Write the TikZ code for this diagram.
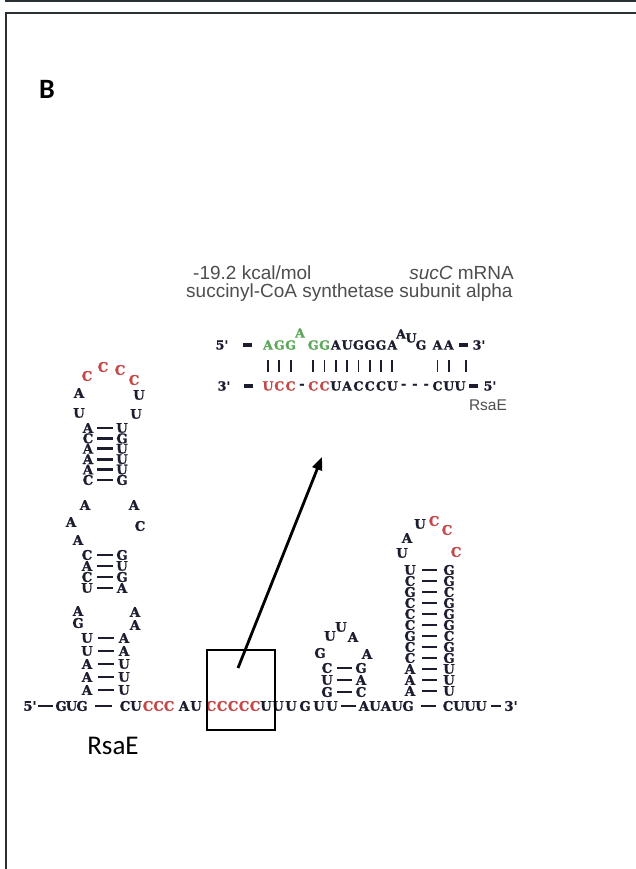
\documentclass[tikz,border=0pt]{standalone}
\usepackage{fontspec}
\usetikzlibrary{calc,arrows.meta}
\newfontfamily\ntfont{DejaVu Serif}[BoldFeatures={FakeBold=1.2}]
\newfontfamily\arialfont{Liberation Sans}
\newfontfamily\califont{Carlito}
\definecolor{ntc}{RGB}{28,30,48}
\definecolor{redc}{RGB}{196,72,72}
\definecolor{greenc}{RGB}{92,168,88}
\definecolor{grayt}{RGB}{78,78,78}
\definecolor{framec}{RGB}{40,48,52}
\tikzset{
  nt/.style={font=\ntfont\bfseries\fontsize{13.2}{13.2}\selectfont, text=ntc, inner sep=0pt},
  ntr/.style={nt, text=redc},
  it/.style={font=\ntfont\bfseries\fontsize{12.6}{12.6}\selectfont, text=ntc, inner sep=0pt},
  itr/.style={it, text=redc},
  itg/.style={it, text=greenc},
  pair/.style={line width=2.8pt, draw=ntc},
  vbar/.style={line width=1.8pt, draw=ntc},
  ibar/.style={line width=3.8pt, draw=ntc},
  lab/.style={font=\arialfont\fontsize{19}{19}\selectfont, text=grayt, inner sep=0pt},
  frameline/.style={draw=framec, line width=1.7pt},
}
\begin{document}
\begin{tikzpicture}[x=1pt,y=-1pt]
\useasboundingbox (0,0) rectangle (636,869);
\fill[white] (0,0) rectangle (636,869);
% frame
\draw[frameline] (6,869) -- (6,13) -- (636,13);
\draw[frameline] (6,0) -- (6,1.2) -- (636,1.2);
% panel letter
\node[font=\califont\bfseries\fontsize{28}{28}\selectfont, inner sep=0pt] (panelB) at (47,89) {B};

% ---------- interaction panel ----------
\node[lab, anchor=base west] (energy) at (193,279) {-19.2 kcal/mol};
\node[lab, anchor=base east] (mrna) at (514,279) {\itshape sucC\upshape{} mRNA};
\node[lab, anchor=base west] (protein) at (186,297) {succinyl-CoA synthetase subunit alpha};
\node[lab, font=\arialfont\fontsize{15.5}{15.5}\selectfont, anchor=base] (rsaeR) at (488,410) {RsaE};

% top strand (mRNA)
\node[it] (i5) at (222,345) {5'};
\foreach \c/\l/\s in {0/A/itg,1/G/itg,2/G/itg,4/G/itg,5/G/itg,6/A/it,7/U/it,8/G/it,9/G/it,10/G/it,11/A/it,15/A/it,16/A/it}{
  \node[\s] (t\c) at ({268+11.3*\c},345) {\l};
}
\node[itg] (tb1) at (300,333) {A};
\node[it] (tb2) at (401,334) {A};
\node[it] (tb3) at (411,338) {U};
\node[it] (t13) at (421,345) {G};
\node[it] (i3) at (479,345) {3'};
\draw[ibar] ($(i5)!.55!(t0)$) ++(-4.5,0) -- ++(9,0);
\draw[ibar] ($(t16)!.5!(i3)$) ++(-4.5,0) -- ++(9,0);
% bottom strand (RsaE)
\node[it] (j3) at (224,386) {3'};
\foreach \c/\l/\s in {0/U/itr,1/C/itr,2/C/itr,3/-/it,4/C/itr,5/C/itr,6/U/it,7/A/it,8/C/it,9/C/it,10/C/it,11/U/it,12/-/it,13/-/it,14/-/it,15/C/it,16/U/it,17/U/it}{
  \node[\s] (b\c) at ({268+11.3*\c},386) {\l};
}
\node[it] (j5) at (490,386) {5'};
\draw[ibar] ($(j3)!.55!(b0)$) ++(-4.5,0) -- ++(9,0);
\draw[ibar] ($(b17)!.45!(j5)$) ++(-4.5,0) -- ++(9,0);
% pairing bars
\foreach \c in {0,1,2,4,5,6,7,8,9,10,11}{
  \draw[vbar] ($(t\c)!.5!(b\c)$) ++(0,-6) -- ++(0,12);
}
\foreach \c in {15,16}{
  \draw[vbar] ($(t\c)!.5!(b\c)$) ++(0,-6) -- ++(0,12);
}
\draw[vbar] ($(t16)!.5!(b17)$) ++(11.3,-6) -- ++(0,12);

% ---------- RsaE secondary structure ----------
% left hairpin: apical loop
\node[ntr] (la1) at (87,376) {C};
\node[ntr] (la2) at (103,367) {C};
\node[ntr] (la3) at (120,370) {C};
\node[ntr] (la4) at (134,380) {C};
\node[nt] (la5) at (79,393) {A};
\node[nt] (la6) at (79,413) {U};
\node[nt] (la7) at (139,395) {U};
\node[nt] (la8) at (136,414) {U};
% upper stem
\foreach \n/\y/\nA/\nB in {1/428/A/U,2/438.4/C/G,3/448.8/A/U,4/459.2/A/U,5/469.6/A/U,6/480/C/G}{
  \node[nt] (usL\n) at (88,\y) {\nA};
  \node[nt] (usR\n) at (122,\y) {\nB};
  \draw[pair] ($(usL\n)!.5!(usR\n)$) ++(-8,0) -- ++(16,0);
}
% internal loop 1
\node[nt] (il1) at (85,505) {A};
\node[nt] (il2) at (71,522) {A};
\node[nt] (il3) at (78,540) {A};
\node[nt] (il4) at (134,505) {A};
\node[nt] (il5) at (140,526) {C};
% middle stem
\foreach \n/\y/\nA/\nB in {1/555/C/G,2/566/A/U,3/577/C/G,4/588/U/A}{
  \node[nt] (msL\n) at (87,\y) {\nA};
  \node[nt] (msR\n) at (122,\y) {\nB};
  \draw[pair] ($(msL\n)!.5!(msR\n)$) ++(-8,0) -- ++(16,0);
}
% internal loop 2
\node[nt] (il6) at (78,611) {A};
\node[nt] (il7) at (78,623) {G};
\node[nt] (il8) at (135,612) {A};
\node[nt] (il9) at (135,625) {A};
% lower stem
\foreach \n/\y/\nA/\nB in {1/638/U/A,2/651/U/A,3/664/A/U,4/677/A/U,5/690/A/U}{
  \node[nt] (lsL\n) at (87,\y) {\nA};
  \node[nt] (lsR\n) at (124,\y) {\nB};
  \draw[pair] ($(lsL\n)!.5!(lsR\n)$) ++(-8,0) -- ++(16,0);
}
% backbone row
\node[nt] (five) at (30,706) {5'};
\foreach \x/\l/\s [count=\i] in {61/G/nt,71.5/U/nt,82/G/nt,125/C/nt,136/U/nt,148/C/ntr,158.5/C/ntr,169/C/ntr,184/A/nt,196/U/nt,211/C/ntr,222/C/ntr,233/C/ntr,244/C/ntr,255/C/ntr,266/U/nt,278/U/nt,291/U/nt,305/G/nt,319/U/nt,332/U/nt,364/A/nt,375/U/nt,386/A/nt,397/U/nt,408/G/nt,448/C/nt,459/U/nt,470/U/nt,481/U/nt}{
  \node[\s] (bt\i) at (\x,706) {\l};
}
\node[nt] (three) at (511,706) {3'};
\draw[pair] ($(five)!.5!(bt1)$) ++(-7.5,0) -- ++(15,0);
\draw[pair] ($(bt3)!.5!(bt4)$) ++(-8.5,0) -- ++(17,0);
\draw[pair] ($(bt21)!.5!(bt22)$) ++(-7.5,0) -- ++(15,0);
\draw[pair] ($(bt26)!.5!(bt27)$) ++(-7.5,0) -- ++(15,0);
\draw[pair] ($(bt30)!.5!(three)$) ++(-5,0) -- ++(10,0);
% middle hairpin
\foreach \n/\y/\nA/\nB in {1/668/C/G,2/680/U/A,3/692/G/C}{
  \node[nt] (mhL\n) at (327,\y) {\nA};
  \node[nt] (mhR\n) at (361,\y) {\nB};
  \draw[pair] ($(mhL\n)!.5!(mhR\n)$) ++(-7.5,0) -- ++(15,0);
}
\node[nt] (ml1) at (320,653) {G};
\node[nt] (ml2) at (330,636) {U};
\node[nt] (ml3) at (341,627) {U};
\node[nt] (ml4) at (353,637) {A};
\node[nt] (ml5) at (367,654) {A};
% right hairpin
\foreach \n/\y/\nA/\nB in {1/570/U/G,2/581/C/G,3/592/G/C,4/603/C/G,5/614/C/G,6/625/C/G,7/636/G/C,8/647/C/G,9/658/C/G,10/669/A/U,11/680/A/U,12/691/A/U}{
  \node[nt] (rhL\n) at (410,\y) {\nA};
  \node[nt] (rhR\n) at (449,\y) {\nB};
  \draw[pair] ($(rhL\n)!.5!(rhR\n)$) ++(-7.5,0) -- ++(15,0);
}
\node[nt] (rl1) at (402,553) {U};
\node[nt] (rl2) at (407,538) {A};
\node[nt] (rl3) at (420,524) {U};
\node[ntr] (rl4) at (434,521) {C};
\node[ntr] (rl5) at (447,530) {C};
\node[ntr] (rl6) at (456,552) {C};

% highlight box and arrow
\node[draw=black, line width=1.3pt, minimum width=68pt, minimum height=80pt, inner sep=0pt] (box) at (241,690) {};
\coordinate (arrowstart) at (238,668);
\coordinate (arrowend) at (322,457);
\draw[line width=2.8pt, -{Triangle[length=13pt,width=10pt]}] (arrowstart) -- (arrowend);

% label
\node[font=\califont\fontsize{27}{27}\selectfont, inner sep=0pt, anchor=base] (rsaeL) at (113,754) {RsaE};
\end{tikzpicture}
\end{document}
